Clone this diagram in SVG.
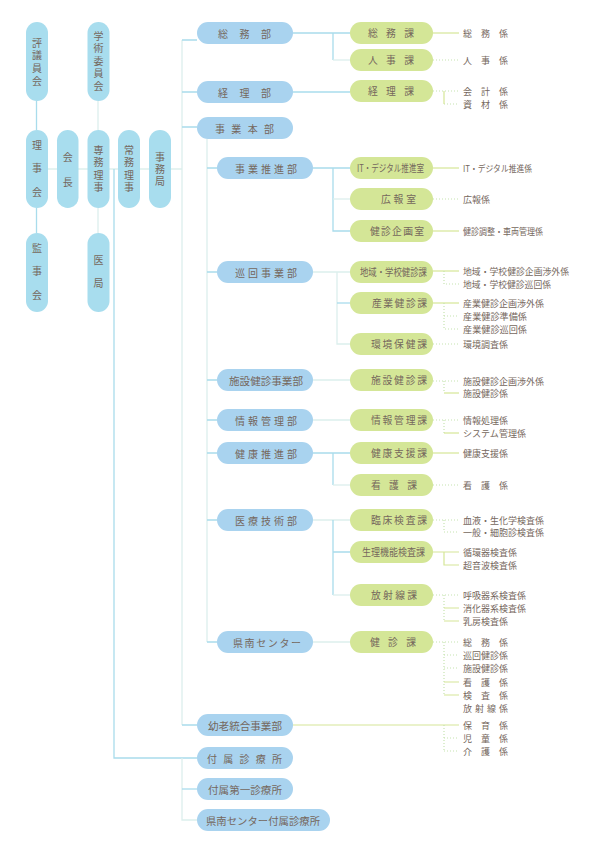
<svg xmlns="http://www.w3.org/2000/svg" width="595" height="842" viewBox="0 0 595 842">
<style>
.vp{fill:#a8ddee}
.bp{fill:#a9d3ef}
.gp{fill:#d4e697}
text{font-family:"Noto Sans CJK JP","Noto Sans CJK SC",sans-serif;fill:#75675d;dominant-baseline:central}
.t10{font-size:10px}
.t9{font-size:9px}
.tg{font-size:9.8px}
.tv{font-size:10px;text-anchor:middle;writing-mode:vertical-rl}
.lb{stroke:#a9dcec;stroke-width:1.3;fill:none}
.ll{stroke:#dcefed;stroke-width:1.3;fill:none}
.lg{stroke:#d5e697;stroke-width:1.2;fill:none}
.ld{stroke:#c6e3b0;stroke-width:1.2;stroke-dasharray:1 2;fill:none}
</style>
<rect width="595" height="842" fill="#ffffff"/>
<g id="connectors">
<path class="lb" d="M36.5 101V130M36.5 208V233"/>
<path class="ll" d="M98 101V130M98 208V233"/>
<path class="ll" d="M48 169H182"/>
<path class="lb" d="M114 169V758H197"/>
<path class="ll" d="M182 40V725"/>
<path class="lb" d="M182 40H197M182 92H197M182 127H197M182 725H197"/>
<path class="ll" d="M182 758V820H197"/>
<path class="lb" d="M182 789H197"/>
<path class="ll" d="M207 139V642"/>
<path class="lb" d="M207 168H217M207 272H217M207 380H217M207 420H217M207 453H217M207 520H217M207 642H217"/>
<path class="lb" d="M293 33H350M333 33V60"/>
<path class="ll" d="M333 60H350"/>
<path class="lb" d="M293 92H350"/>
<path class="lb" d="M313 168H350M333 168V231H350"/>
<path class="ll" d="M333 199H350"/>
<path class="ll" d="M313 272H350M337 272V344H350"/>
<path class="lb" d="M337 303H350"/>
<path class="ll" d="M313 380H350M313 420H350"/>
<path class="lb" d="M313 453H350M333 453V485"/>
<path class="ll" d="M333 485H350"/>
<path class="ll" d="M313 520H350"/>
<path class="lb" d="M333 520V595M333 552H350"/>
<path class="ll" d="M333 595H350"/>
<path class="ll" d="M313 642H350"/>
<path class="lg" d="M293 725H459"/>
<path class="lg" d="M433 33H459"/>
<path class="ld" d="M433 60H459"/>
<path class="ld" d="M433 91H459M444 104H459"/>
<path class="lg" d="M444 91V104"/>
<path class="lg" d="M433 168H459"/>
<path class="ld" d="M433 199H459"/>
<path class="lg" d="M433 231H459"/>
<path class="lg" d="M433 271H459"/>
<path class="ld" d="M444 271V284H459"/>
<path class="lg" d="M433 303H459"/>
<path class="ld" d="M444 303V329H459M444 316H459"/>
<path class="ld" d="M433 344H459"/>
<path class="ld" d="M433 381H459M444 381V393"/>
<path class="lg" d="M444 393H459"/>
<path class="ld" d="M433 420H459M444 420V433"/>
<path class="lg" d="M444 433H459"/>
<path class="lg" d="M433 453H459"/>
<path class="ld" d="M433 485H459"/>
<path class="ld" d="M433 520H459M444 520V532H459"/>
<path class="lg" d="M433 552H459M444 552V565H459"/>
<path class="ld" d="M433 595H459M444 595V621"/>
<path class="lg" d="M444 608H459M444 621H459"/>
<path class="ld" d="M433 642H459M444 642V695M444 655H459M444 668H459"/>
<path class="lg" d="M444 682H459M444 695H459"/>
<path class="ld" d="M444 725V751M444 738H459M444 751H459"/>
</g>
<g id="hyogiinkai"><rect class="vp" x="26" y="22" width="22" height="79" rx="11"/><text class="tv" x="37" y="63.3" letter-spacing="2.7">評議員会</text></g>
<g id="gakujutsu"><rect class="vp" x="87.5" y="22" width="22" height="79" rx="11"/><text class="tv" x="98.5" y="62.2" letter-spacing="2.5">学術委員会</text></g>
<g id="rijikai"><rect class="vp" x="26" y="130" width="22" height="78" rx="11"/><text class="tv" x="37" y="175.2" letter-spacing="13.5">理事会</text></g>
<g id="kaicho"><rect class="vp" x="57" y="130" width="21.5" height="78" rx="10.75"/><text class="tv" x="67.7" y="177" letter-spacing="15">会長</text></g>
<g id="senmu"><rect class="vp" x="87.5" y="130" width="22" height="78" rx="11"/><text class="tv" x="98.5" y="170.2" letter-spacing="2.5">専務理事</text></g>
<g id="jomu"><rect class="vp" x="118" y="130" width="22" height="78" rx="11"/><text class="tv" x="129" y="170.2" letter-spacing="2.5">常務理事</text></g>
<g id="jimukyoku"><rect class="vp" x="149" y="130" width="22" height="78" rx="11"/><text class="tv" x="160" y="170" letter-spacing="2">事務局</text></g>
<g id="kanjikai"><rect class="vp" x="26" y="233" width="22" height="79" rx="11"/><text class="tv" x="37" y="278.2" letter-spacing="13.5">監事会</text></g>
<g id="ikyoku"><rect class="vp" x="87.5" y="233" width="22" height="79" rx="11"/><text class="tv" x="98.5" y="278" letter-spacing="13">医局</text></g>
<g id="somubu"><rect class="bp" x="197" y="22" width="96" height="22" rx="11"/><text class="t10" x="218" y="33" textLength="53" lengthAdjust="spacing">総務部</text></g>
<g id="keiribu"><rect class="bp" x="197" y="81" width="96" height="22" rx="11"/><text class="t10" x="218" y="92" textLength="53" lengthAdjust="spacing">経理部</text></g>
<g id="jigyohonbu"><rect class="bp" x="197" y="117" width="96" height="22" rx="11"/><text class="t10" x="215" y="128" textLength="59" lengthAdjust="spacing">事業本部</text></g>
<g id="suishinbu"><rect class="bp" x="217" y="157" width="96" height="22" rx="11"/><text class="t10" x="235" y="168" textLength="62" lengthAdjust="spacing">事業推進部</text></g>
<g id="junkaibu"><rect class="bp" x="217" y="261" width="96" height="22" rx="11"/><text class="t10" x="235" y="272" textLength="62" lengthAdjust="spacing">巡回事業部</text></g>
<g id="shisetsubu"><rect class="bp" x="217" y="369" width="96" height="22" rx="11"/><text class="t10" x="229" y="380" textLength="74" lengthAdjust="spacingAndGlyphs">施設健診事業部</text></g>
<g id="johobu"><rect class="bp" x="217" y="409" width="96" height="22" rx="11"/><text class="t10" x="235" y="420" textLength="62" lengthAdjust="spacing">情報管理部</text></g>
<g id="kenkobu"><rect class="bp" x="217" y="442" width="96" height="22" rx="11"/><text class="t10" x="235" y="453" textLength="62" lengthAdjust="spacing">健康推進部</text></g>
<g id="iryobu"><rect class="bp" x="217" y="509" width="96" height="22" rx="11"/><text class="t10" x="235" y="520" textLength="62" lengthAdjust="spacing">医療技術部</text></g>
<g id="kennan"><rect class="bp" x="217" y="631" width="96" height="22" rx="11"/><text class="t10" x="233" y="642" textLength="68" lengthAdjust="spacing">県南センター</text></g>
<g id="yoro"><rect class="bp" x="197" y="714" width="96" height="22" rx="11"/><text class="t10" x="208" y="725" textLength="74" lengthAdjust="spacingAndGlyphs">幼老統合事業部</text></g>
<g id="fuzoku"><rect class="bp" x="197" y="747" width="96" height="22" rx="11"/><text class="t10" x="207" y="758" textLength="75" lengthAdjust="spacing">付属診療所</text></g>
<g id="fuzoku1"><rect class="bp" x="197" y="778" width="96" height="22" rx="11"/><text class="t10" x="208" y="789" textLength="74" lengthAdjust="spacingAndGlyphs">付属第一診療所</text></g>
<g id="kennanfuzoku"><rect class="bp" x="197" y="809" width="133" height="22" rx="11"/><text class="t10" x="206" y="820" textLength="114" lengthAdjust="spacingAndGlyphs">県南センター付属診療所</text></g>
<g id="somuka"><rect class="gp" x="350" y="22" width="83" height="22" rx="11"/><text class="tg" x="368" y="33" textLength="46" lengthAdjust="spacing">総務課</text></g>
<g id="jinjika"><rect class="gp" x="350" y="49" width="83" height="22" rx="11"/><text class="tg" x="368" y="60" textLength="46" lengthAdjust="spacing">人事課</text></g>
<g id="keirika"><rect class="gp" x="350" y="80" width="83" height="22" rx="11"/><text class="tg" x="368" y="91" textLength="46" lengthAdjust="spacing">経理課</text></g>
<g id="itshitsu"><rect class="gp" x="350" y="157" width="83" height="22" rx="11"/><text class="tg" x="357" y="168" textLength="67" lengthAdjust="spacingAndGlyphs">IT・デジタル推進室</text></g>
<g id="kohoshitsu"><rect class="gp" x="350" y="188" width="83" height="22" rx="11"/><text class="tg" x="381" y="199" textLength="35" lengthAdjust="spacing">広報室</text></g>
<g id="kikakushitsu"><rect class="gp" x="350" y="220" width="83" height="22" rx="11"/><text class="tg" x="370" y="231" textLength="54" lengthAdjust="spacing">健診企画室</text></g>
<g id="chiikika"><rect class="gp" x="350" y="261" width="83" height="22" rx="11"/><text class="tg" x="360" y="272" textLength="67" lengthAdjust="spacingAndGlyphs">地域・学校健診課</text></g>
<g id="sangyoka"><rect class="gp" x="350" y="292" width="83" height="22" rx="11"/><text class="tg" x="372" y="303" textLength="55" lengthAdjust="spacing">産業健診課</text></g>
<g id="kankyoka"><rect class="gp" x="350" y="333" width="83" height="22" rx="11"/><text class="tg" x="371" y="344" textLength="56" lengthAdjust="spacing">環境保健課</text></g>
<g id="shisetsuka"><rect class="gp" x="350" y="369" width="83" height="22" rx="11"/><text class="tg" x="371" y="380" textLength="56" lengthAdjust="spacing">施設健診課</text></g>
<g id="johoka"><rect class="gp" x="350" y="409" width="83" height="22" rx="11"/><text class="tg" x="371" y="420" textLength="56" lengthAdjust="spacing">情報管理課</text></g>
<g id="shienka"><rect class="gp" x="350" y="442" width="83" height="22" rx="11"/><text class="tg" x="371" y="453" textLength="56" lengthAdjust="spacing">健康支援課</text></g>
<g id="kangoka"><rect class="gp" x="350" y="474" width="83" height="22" rx="11"/><text class="tg" x="371" y="485" textLength="46" lengthAdjust="spacing">看護課</text></g>
<g id="rinshoka"><rect class="gp" x="350" y="509" width="83" height="22" rx="11"/><text class="tg" x="371" y="520" textLength="56" lengthAdjust="spacing">臨床検査課</text></g>
<g id="seirika"><rect class="gp" x="350" y="541" width="83" height="22" rx="11"/><text class="tg" x="362" y="552" textLength="63" lengthAdjust="spacingAndGlyphs">生理機能検査課</text></g>
<g id="hoshasenka"><rect class="gp" x="350" y="584" width="83" height="22" rx="11"/><text class="tg" x="371" y="595" textLength="46" lengthAdjust="spacing">放射線課</text></g>
<g id="kenshinka"><rect class="gp" x="350" y="631" width="83" height="22" rx="11"/><text class="tg" x="370" y="642" textLength="46" lengthAdjust="spacing">健診課</text></g>
<g id="items">
<text class="t9" x="463" y="33" textLength="45" lengthAdjust="spacing">総務係</text>
<text class="t9" x="463" y="60" textLength="45" lengthAdjust="spacing">人事係</text>
<text class="t9" x="463" y="91" textLength="45" lengthAdjust="spacing">会計係</text>
<text class="t9" x="463" y="104" textLength="45" lengthAdjust="spacing">資材係</text>
<text class="t9" x="463" y="168" textLength="69" lengthAdjust="spacingAndGlyphs">IT・デジタル推進係</text>
<text class="t9" x="463" y="199" textLength="27" lengthAdjust="spacing">広報係</text>
<text class="t9" x="463" y="231" textLength="80" lengthAdjust="spacingAndGlyphs">健診調整・車両管理係</text>
<text class="t9" x="463" y="271" textLength="106" lengthAdjust="spacingAndGlyphs">地域・学校健診企画渉外係</text>
<text class="t9" x="463" y="284" textLength="88" lengthAdjust="spacingAndGlyphs">地域・学校健診巡回係</text>
<text class="t9" x="463" y="303" textLength="81" lengthAdjust="spacingAndGlyphs">産業健診企画渉外係</text>
<text class="t9" x="463" y="316" textLength="64" lengthAdjust="spacingAndGlyphs">産業健診準備係</text>
<text class="t9" x="463" y="329" textLength="64" lengthAdjust="spacingAndGlyphs">産業健診巡回係</text>
<text class="t9" x="463" y="344" textLength="45" lengthAdjust="spacing">環境調査係</text>
<text class="t9" x="463" y="381" textLength="81" lengthAdjust="spacingAndGlyphs">施設健診企画渉外係</text>
<text class="t9" x="463" y="393" textLength="45" lengthAdjust="spacing">施設健診係</text>
<text class="t9" x="463" y="420" textLength="45" lengthAdjust="spacing">情報処理係</text>
<text class="t9" x="463" y="433" textLength="63" lengthAdjust="spacingAndGlyphs">システム管理係</text>
<text class="t9" x="463" y="453" textLength="45" lengthAdjust="spacing">健康支援係</text>
<text class="t9" x="463" y="485" textLength="45" lengthAdjust="spacing">看護係</text>
<text class="t9" x="463" y="520" textLength="81" lengthAdjust="spacingAndGlyphs">血液・生化学検査係</text>
<text class="t9" x="463" y="532" textLength="81" lengthAdjust="spacingAndGlyphs">一般・細胞診検査係</text>
<text class="t9" x="463" y="552" textLength="54" lengthAdjust="spacing">循環器検査係</text>
<text class="t9" x="463" y="565" textLength="54" lengthAdjust="spacing">超音波検査係</text>
<text class="t9" x="463" y="595" textLength="63" lengthAdjust="spacingAndGlyphs">呼吸器系検査係</text>
<text class="t9" x="463" y="608" textLength="63" lengthAdjust="spacingAndGlyphs">消化器系検査係</text>
<text class="t9" x="463" y="621" textLength="45" lengthAdjust="spacing">乳房検査係</text>
<text class="t9" x="463" y="642" textLength="45" lengthAdjust="spacing">総務係</text>
<text class="t9" x="463" y="655" textLength="45" lengthAdjust="spacing">巡回健診係</text>
<text class="t9" x="463" y="668" textLength="45" lengthAdjust="spacing">施設健診係</text>
<text class="t9" x="463" y="682" textLength="45" lengthAdjust="spacing">看護係</text>
<text class="t9" x="463" y="695" textLength="45" lengthAdjust="spacing">検査係</text>
<text class="t9" x="463" y="708" textLength="45" lengthAdjust="spacing">放射線係</text>
<text class="t9" x="463" y="725" textLength="45" lengthAdjust="spacing">保育係</text>
<text class="t9" x="463" y="738" textLength="45" lengthAdjust="spacing">児童係</text>
<text class="t9" x="463" y="751" textLength="45" lengthAdjust="spacing">介護係</text>
</g>
</svg>
